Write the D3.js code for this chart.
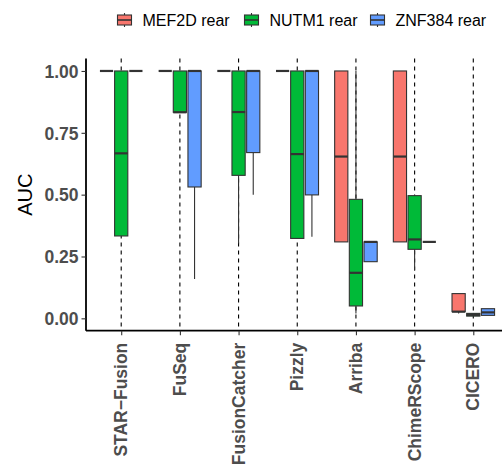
<!DOCTYPE html>
<html>
<head>
<meta charset="utf-8">
<script src="https://cdn.jsdelivr.net/npm/d3@7"></script>
<style>
  html, body { margin: 0; padding: 0; background: #fff; }
  svg { display: block; font-family: "Liberation Sans", Arial, Helvetica, sans-serif; }
</style>
</head>
<body>
<svg id="chart" width="502" height="464"></svg>
<script>
// ---- data ----
const tools = ["STAR\u2212Fusion", "FuSeq", "FusionCatcher", "Pizzly", "Arriba", "ChimeRScope", "CICERO"];
const groups = ["MEF2D rear", "NUTM1 rear", "ZNF384 rear"];
const groupColors = ["#F8766D", "#00BA38", "#619CFF"];
const yTicks = [0, 0.25, 0.5, 0.75, 1];

// five-number summaries per tool: [whiskerLow, q1, median, q3, whiskerHigh]
const mef2dStats = [
  [1, 1, 1, 1, 1],
  [1, 1, 1, 1, 1],
  [1, 1, 1, 1, 1],
  [1, 1, 1, 1, 1],
  [0.309, 0.309, 0.654, 1, 1],
  [0.309, 0.309, 0.654, 1, 1],
  [0.02, 0.027, 0.027, 0.1, 0.1]
];
const nutm1Stats = [
  [0.333, 0.333, 0.667, 1, 1],
  [0.833, 0.833, 0.833, 1, 1],
  [0.303, 0.578, 0.834, 1, 1],
  [0.323, 0.323, 0.664, 1, 1],
  [0.02, 0.05, 0.184, 0.481, 1],
  [0.193, 0.279, 0.319, 0.496, 0.496],
  [0.009, 0.009, 0.014, 0.02, 0.02]
];
const znf384Stats = [
  [1, 1, 1, 1, 1],
  [0.159, 0.531, 1, 1, 1],
  [0.5, 0.67, 1, 1, 1],
  [0.33, 0.499, 1, 1, 1],
  [0.229, 0.229, 0.309, 0.309, 0.309],
  [0.309, 0.309, 0.309, 0.309, 0.309],
  [0.012, 0.012, 0.024, 0.039, 0.039]
];
const allStats = [mef2dStats, nutm1Stats, znf384Stats];

// ---- layout ----
const svg = d3.select("#chart");
const panel = { left: 86, right: 508.5, top: 58.6, bottom: 330.7 };

const x = d3.scalePoint().domain(tools).range([panel.left, panel.right]).padding(0.6);
const step = x.step();
const dodge = d3.scaleBand().domain(groups).range([-0.375 * step, 0.375 * step]).padding(0);
const boxW = dodge.bandwidth() * 0.9;
const y = d3.scaleLinear().domain([-0.05, 1.05]).range([panel.bottom, panel.top]);
const color = d3.scaleOrdinal().domain(groups).range(groupColors);

// vertical dashed gridlines
svg.append("g").selectAll("line").data(tools).join("line")
  .attr("x1", d => x(d)).attr("x2", d => x(d))
  .attr("y1", panel.top).attr("y2", panel.bottom)
  .attr("stroke", "#000").attr("stroke-width", 1.1)
  .attr("stroke-dasharray", "4,4");

// boxes
const records = [];
groups.forEach((g, gi) => {
  tools.forEach((t, ti) => {
    const s = allStats[gi][ti];
    records.push({ tool: t, group: g, lo: s[0], q1: s[1], med: s[2], q3: s[3], hi: s[4] });
  });
});

const boxG = svg.append("g").selectAll("g").data(records).join("g")
  .attr("transform", d => `translate(${x(d.tool) + dodge(d.group) + dodge.bandwidth() / 2},0)`);

boxG.append("line")
  .attr("x1", 0).attr("x2", 0)
  .attr("y1", d => y(d.hi)).attr("y2", d => y(d.q3))
  .attr("stroke", "#333").attr("stroke-width", 1.1);
boxG.append("line")
  .attr("x1", 0).attr("x2", 0)
  .attr("y1", d => y(d.q1)).attr("y2", d => y(d.lo))
  .attr("stroke", "#333").attr("stroke-width", 1.1);
boxG.append("rect")
  .attr("x", -boxW / 2).attr("width", boxW)
  .attr("y", d => y(d.q3)).attr("height", d => Math.max(0, y(d.q1) - y(d.q3)))
  .attr("fill", d => color(d.group))
  .attr("stroke", "#333").attr("stroke-width", 1.1);
boxG.append("line")
  .attr("x1", -boxW / 2).attr("x2", boxW / 2)
  .attr("y1", d => y(d.med)).attr("y2", d => y(d.med))
  .attr("stroke", "#333").attr("stroke-width", 2.2);

// y axis
const yAxis = svg.append("g")
  .attr("transform", `translate(${panel.left},0)`)
  .call(d3.axisLeft(y).tickValues(yTicks).tickFormat(d3.format(".2f")).tickSize(4.5).tickPadding(3));
yAxis.select(".domain").attr("stroke", "#000").attr("stroke-width", 1.8)
  .attr("d", `M0,${panel.top}V${panel.bottom}`);
yAxis.selectAll(".tick line").attr("stroke", "#333").attr("stroke-width", 1.1);
yAxis.selectAll(".tick text")
  .attr("fill", "#4D4D4D").style("font-size", "17.5px").style("font-weight", "bold")
  .attr("dy", "0.36em");

// x axis
const xAxis = svg.append("g")
  .attr("transform", `translate(0,${panel.bottom})`)
  .call(d3.axisBottom(x).tickSize(4.5).tickPadding(3));
xAxis.select(".domain").attr("stroke", "#000").attr("stroke-width", 1.8)
  .attr("d", `M${panel.left},0H${panel.right}`);
xAxis.selectAll(".tick line").attr("stroke", "#333").attr("stroke-width", 1.1);
xAxis.selectAll(".tick text")
  .attr("fill", "#4D4D4D").style("font-size", "17.5px").style("font-weight", "bold")
  .attr("transform", "rotate(-90)")
  .attr("text-anchor", "end")
  .attr("x", -12).attr("y", 0).attr("dy", "0.32em");

// y title
svg.append("text")
  .attr("transform", `translate(${32},${(y(0) + y(1)) / 2}) rotate(-90)`)
  .attr("text-anchor", "middle")
  .style("font-size", "20px").attr("fill", "#000")
  .text("AUC");

// legend
const legendX = [117.5, 244.5, 370.5];
const lg = svg.append("g").selectAll("g").data(groups).join("g")
  .attr("transform", (d, i) => `translate(${legendX[i]},20)`);
lg.append("line").attr("x1", 7).attr("x2", 7).attr("y1", -7).attr("y2", 7)
  .attr("stroke", "#333").attr("stroke-width", 1.1);
lg.append("rect").attr("x", 0).attr("y", -5).attr("width", 14).attr("height", 10)
  .attr("fill", d => color(d)).attr("stroke", "#333").attr("stroke-width", 1.1);
lg.append("line").attr("x1", 0).attr("x2", 14).attr("y1", 0).attr("y2", 0)
  .attr("stroke", "#333").attr("stroke-width", 1.6);
lg.append("text").attr("x", 25).attr("y", 0).attr("dy", "0.36em")
  .style("font-size", "16px").attr("fill", "#000")
  .text(d => d);
</script>
</body>
</html>
